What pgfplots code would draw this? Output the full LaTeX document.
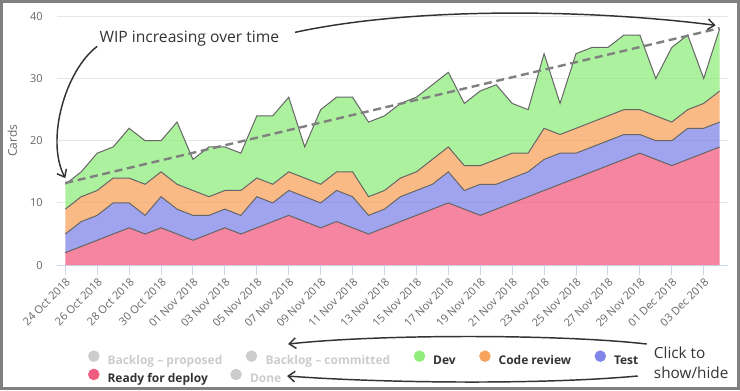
\documentclass[border=0pt]{standalone}
\usepackage{fontspec}
\setmainfont{Open Sans}
\usepackage{pgfplots}
\pgfplotsset{compat=1.18}
\usepackage{pgfplotstable}
\usepgfplotslibrary{fillbetween}
\usetikzlibrary{arrows.meta}

\definecolor{devc}{HTML}{90ED7D}
\definecolor{crc}{HTML}{F7A35C}
\definecolor{testc}{HTML}{8085E9}
\definecolor{rdc}{HTML}{F15C80}
\definecolor{hidc}{HTML}{CCCCCC}
\definecolor{txt}{HTML}{333333}
\definecolor{lbl}{HTML}{666666}
\definecolor{axc}{HTML}{CCD6EB}
\definecolor{gridc}{HTML}{E6E6E6}
\definecolor{framec}{HTML}{808080}
\definecolor{trendc}{HTML}{808080}

% cumulative tops of the stacked areas (cards)
\pgfplotstableread{
day ready test review dev
0 2 5 9 13
1 3 7 11 15
2 4 8 12 18
3 5 10 14 19
4 6 10 14 22
5 5 8 13 20
6 6 11 15 20
7 5 9 13 23
8 4 8 12 17
9 5 8 11 19
10 6 9 12 19
11 5 8 12 18
12 6 11 14 24
13 7 10 13 24
14 8 12 15 27
15 7 11 14 19
16 6 10 13 25
17 7 12 15 27
18 6 11 15 27
19 5 8 11 23
20 6 9 12 24
21 7 11 14 26
22 8 12 15 27
23 9 13 17 29
24 10 15 19 31
25 9 12 16 26
26 8 13 16 28
27 9 13 17 29
28 10 14 18 26
29 11 15 18 25
30 12 17 22 34
31 13 18 21 26
32 14 18 22 34
33 15 19 23 35
34 16 20 24 35
35 17 21 25 37
36 18 21 25 37
37 17 20 24 30
38 16 20 23 35
39 17 22 25 37
40 18 22 26 30
41 19 23 28 38
}\wip

\begin{document}
\begin{tikzpicture}[x=0.75pt,y=0.75pt]
\begin{axis}[
  at={(42.75pt,93.75pt)}, anchor=south west,
  scale only axis, width=503.25pt, height=186.75pt,
  xmin=-0.5, xmax=41.5, ymin=0, ymax=40,
  axis x line*=bottom, axis y line*=left,
  y axis line style={draw=none},
  x axis line style={draw=axc, line width=0.75pt, -},
  xtick={0,2,...,40},
  xticklabels={24 Oct 2018,26 Oct 2018,28 Oct 2018,30 Oct 2018,01 Nov 2018,03 Nov 2018,05 Nov 2018,07 Nov 2018,09 Nov 2018,11 Nov 2018,13 Nov 2018,15 Nov 2018,17 Nov 2018,19 Nov 2018,21 Nov 2018,23 Nov 2018,25 Nov 2018,27 Nov 2018,29 Nov 2018,01 Dec 2018,03 Dec 2018},
  ytick={0,10,20,30,40},
  ymajorgrids, grid style={draw=gridc, line width=0.75pt},
  tick align=outside,
  xtick style={draw=axc, line width=0.75pt},
  ytick style={draw=none},
  major tick length=7.5pt,
  /pgf/number format/assume math mode=true,
  ticklabel style={font=\fontsize{8.25}{9}\selectfont, text=lbl},
  xticklabel style={rotate=45, anchor=north east, inner sep=1pt},
  ylabel={Cards},
  ylabel style={at={(axis description cs:-0.067,0.5)}, anchor=center, font=\fontsize{9}{10}\selectfont, text=lbl},
  legend columns=5,
  legend cell align=left,
  legend style={at={(axis description cs:0.0455,-0.342)}, anchor=north west,
    draw=none, fill=none, inner sep=0pt, row sep=1.75pt,
    font=\bfseries\fontsize{9}{11}\selectfont,
    nodes={inner sep=0pt},
    /tikz/every odd column/.append style={column sep=6pt},
    /tikz/every even column/.append style={column sep=17.6pt}},
]
\addplot[draw=none, forget plot, name path=base] coordinates {(0,0) (41,0)};
\addplot[draw=lbl, line width=0.75pt, forget plot, name path=pr] table[x=day,y=ready]{\wip};
\addplot[draw=lbl, line width=0.75pt, forget plot, name path=pt] table[x=day,y=test]{\wip};
\addplot[draw=lbl, line width=0.75pt, forget plot, name path=pc] table[x=day,y=review]{\wip};
\addplot[draw=lbl, line width=0.75pt, forget plot, name path=pd] table[x=day,y=dev]{\wip};
\addplot[draw=none, fill=rdc, fill opacity=0.75, forget plot] fill between[of=pr and base];
\addplot[draw=none, fill=testc, fill opacity=0.75, forget plot] fill between[of=pt and pr];
\addplot[draw=none, fill=crc, fill opacity=0.75, forget plot] fill between[of=pc and pt];
\addplot[draw=none, fill=devc, fill opacity=0.75, forget plot] fill between[of=pd and pc];
\addplot[draw=trendc, line width=1.8pt, dash pattern=on 6pt off 3.5pt, forget plot] coordinates {(0,13.2) (41,38.1)};

\addlegendimage{legend image code/.code={\fill[hidc] (4.1pt,3.5pt) circle (4.1pt);}}
\addlegendentry[text=hidc]{Backlog – proposed}
\addlegendimage{legend image code/.code={\fill[hidc] (4.1pt,3.5pt) circle (4.1pt);}}
\addlegendentry[text=hidc]{Backlog – committed}
\addlegendimage{legend image code/.code={\fill[devc] (4.1pt,3.5pt) circle (4.1pt);}}
\addlegendentry[text=txt]{Dev}
\addlegendimage{legend image code/.code={\fill[crc] (4.1pt,3.5pt) circle (4.1pt);}}
\addlegendentry[text=txt]{Code review}
\addlegendimage{legend image code/.code={\fill[testc] (4.1pt,3.5pt) circle (4.1pt);}}
\addlegendentry[text=txt]{Test}
\addlegendimage{legend image code/.code={\fill[rdc] (4.1pt,3.5pt) circle (4.1pt);}}
\addlegendentry[text=txt]{Ready for deploy}
\addlegendimage{legend image code/.code={\fill[hidc, overlay] (-7.5pt,3.5pt) circle (4.1pt);}}
\addlegendentry[text=hidc, overlay, xshift=-11.6pt]{Done}
\end{axis}

% annotations
\node[anchor=base west, font=\fontsize{11.75}{14}\selectfont, text=txt, inner sep=0pt] at (99,348) {WIP increasing over time};
\draw[txt, line width=1.1pt, -{Straight Barb[length=5pt,width=8pt]}] (97,344) .. controls (65,320) and (45,250) .. (65,212);
\draw[txt, line width=1.1pt, -{Straight Barb[length=5pt,width=8pt]}] (295,358) .. controls (420,385) and (600,380) .. (716,365);
\node[anchor=base west, font=\fontsize{11.5}{14}\selectfont, text=txt, inner sep=0pt] at (654,31.7) {Click to};
\node[anchor=base west, font=\fontsize{11.5}{14}\selectfont, text=txt, inner sep=0pt] at (654,11.7) {show/hide};
\draw[txt, line width=1.1pt, -{Straight Barb[length=5pt,width=8pt]}] (647,46) .. controls (560,56) and (380,56) .. (288,46);
\draw[txt, line width=1.1pt, -{Straight Barb[length=5pt,width=8pt]}] (638,14) .. controls (540,5) and (380,7) .. (287,14);

\draw[framec, line width=2.25pt] (1.125,1.125) rectangle (738.875,388.875);
\end{tikzpicture}
\end{document}
